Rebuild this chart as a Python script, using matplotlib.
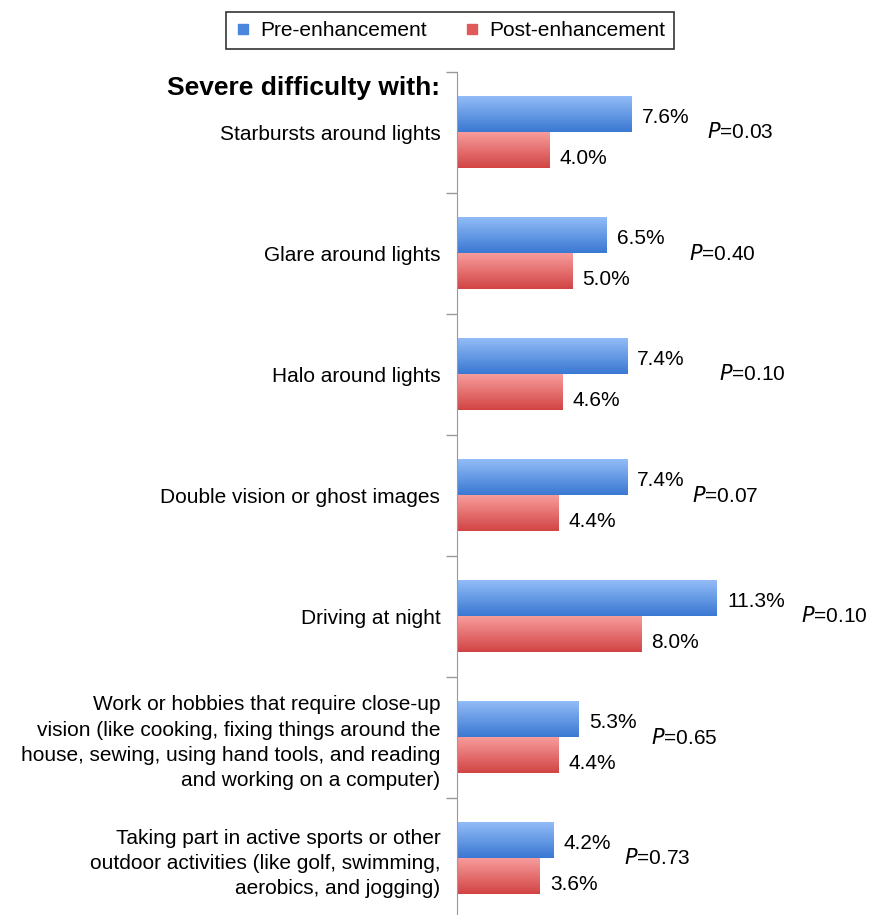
import numpy as np
import matplotlib.pyplot as plt
from matplotlib.lines import Line2D
from matplotlib.colors import to_rgb

plt.rcParams['font.family'] = ['Liberation Sans', 'DejaVu Sans']

# data
categories = [
    "Starbursts around lights",
    "Glare around lights",
    "Halo around lights",
    "Double vision or ghost images",
    "Driving at night",
    "Work or hobbies that require close-up\nvision (like cooking, fixing things around the\n"
    "house, sewing, using hand tools, and reading\nand working on a computer)",
    "Taking part in active sports or other\noutdoor activities (like golf, swimming,\naerobics, and jogging)",
]
pre = [7.6, 6.5, 7.4, 7.4, 11.3, 5.3, 4.2]
post = [4.0, 5.0, 4.6, 4.4, 8.0, 4.4, 3.6]
p_values = ["0.03", "0.40", "0.10", "0.07", "0.10", "0.65", "0.73"]

# layout: x position (data units) of the P labels
p_x = [10.85, 10.1, 11.4, 10.2, 14.95, 8.45, 7.25]

W, H = 871, 915
FS = 15
fig = plt.figure(figsize=(W / 100, H / 100), dpi=100)
ax = fig.add_axes([457 / W, -4 / H, 1 - 457 / W, (915 - 72 + 4) / H])

bar_h = 0.29
blue_top, blue_bot = to_rgb("#92bcf7"), to_rgb("#3a78d2")
red_top, red_bot = to_rgb("#f89c9c"), to_rgb("#d24444")


def grad_bar(x, y0, y1, c_top, c_bot):
    t = np.linspace(0, 1, 64)[:, None, None]
    img = (1 - t) * np.array(c_top)[None, None, :] + t * np.array(c_bot)[None, None, :]
    ax.imshow(img, extent=[0, x, y1, y0], aspect='auto', origin='upper',
              interpolation='bilinear', zorder=2)


for i in range(len(categories)):
    c = i + 0.5
    grad_bar(pre[i], c - bar_h, c, blue_top, blue_bot)
    grad_bar(post[i], c, c + bar_h, red_top, red_bot)
    ax.annotate(f"{pre[i]:.1f}%", (pre[i], c - bar_h / 2), xytext=(10, -3),
                textcoords='offset pixels', ha='left', va='center', fontsize=FS)
    ax.annotate(f"{post[i]:.1f}%", (post[i], c + bar_h / 2), xytext=(10, -8),
                textcoords='offset pixels', ha='left', va='center', fontsize=FS)
    ax.text(p_x[i], c, f"$P$={p_values[i]}", ha='left', va='center', fontsize=FS)

ax.set_xlim(0, 18)
ax.set_ylim(7, 0)

ax.set_yticks(np.arange(0, 8))
ax.set_yticklabels([])
ax.tick_params(axis='y', which='major', length=8, width=1, color='#999999', direction='out')
ax.set_yticks(np.arange(len(categories)) + 0.5, minor=True)
ax.set_yticklabels(categories, minor=True, fontsize=FS, ha='right')
ax.tick_params(axis='y', which='minor', length=0, pad=12)
for lab in ax.get_yticklabels(minor=True):
    lab.set_multialignment('right')
    lab.set_linespacing(1.42)
ax.set_xticks([])
for s in ['top', 'right', 'bottom']:
    ax.spines[s].set_visible(False)
ax.spines['left'].set_color('#999999')
ax.patch.set_alpha(0)

fig.text(440 / W, 1 - 88 / H, "Severe difficulty with:", ha='right', va='center',
         fontsize=19, fontweight='bold')

handles = [
    Line2D([], [], marker='s', ls='none', markersize=7, markerfacecolor='#4a86dc',
           markeredgecolor='#4a86dc', label='Pre-enhancement'),
    Line2D([], [], marker='s', ls='none', markersize=7, markerfacecolor='#e05a5a',
           markeredgecolor='#e05a5a', label='Post-enhancement'),
]
leg = fig.legend(handles=handles, loc='center', bbox_to_anchor=(450 / W, 1 - 30.5 / H),
                 ncol=2, fontsize=FS, frameon=True, fancybox=False, edgecolor='black',
                 handlelength=0.8, handletextpad=0.4, columnspacing=1.8, borderpad=0.45)
leg.get_frame().set_linewidth(1.2)

fig.savefig("out.png", dpi=100)
